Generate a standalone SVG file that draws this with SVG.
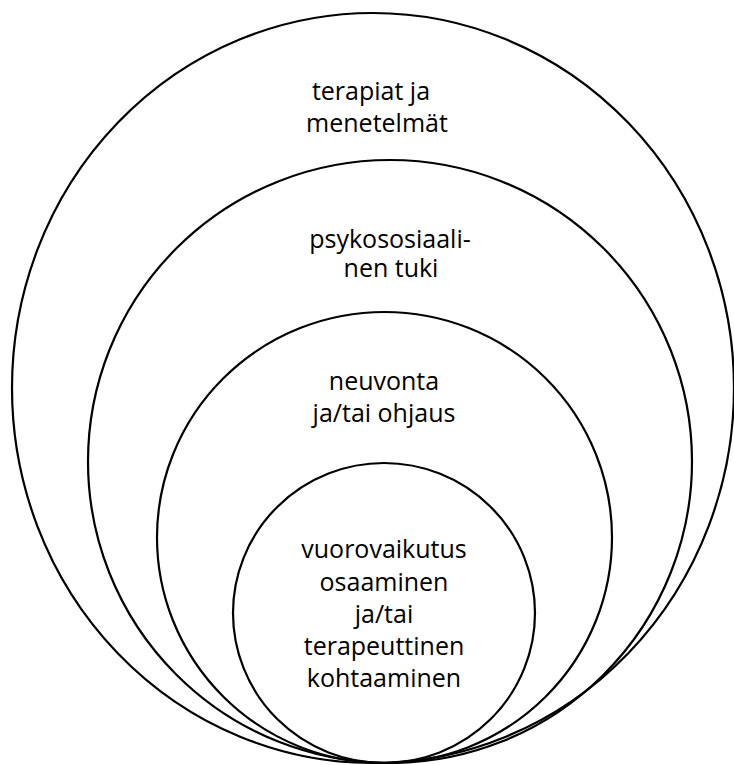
<svg xmlns="http://www.w3.org/2000/svg" width="734" height="765" viewBox="0 0 734 765">
<style>
.ring{fill:none;stroke:#000;stroke-width:2.2}
.lbl{font-family:"Open Sans","Noto Sans","Liberation Sans",sans-serif;font-size:25px;fill:#000;text-anchor:middle}
</style>
<rect width="734" height="765" fill="#fff"/>
<g id="ring-outer">
<ellipse class="ring" cx="373" cy="388" rx="361" ry="375"/>
<text class="lbl" x="371" y="100">terapiat ja</text>
<text class="lbl" x="377" y="132">menetelmät</text>
</g>
<g id="ring-second">
<ellipse class="ring" cx="390" cy="461.5" rx="302" ry="301.5"/>
<text class="lbl" x="390" y="248">psykososiaali-</text>
<text class="lbl" x="391" y="277">nen tuki</text>
</g>
<g id="ring-third">
<ellipse class="ring" cx="384.5" cy="537.5" rx="227.5" ry="225.5"/>
<text class="lbl" x="384" y="390">neuvonta</text>
<text class="lbl" x="384" y="422">ja/tai ohjaus</text>
</g>
<g id="ring-inner">
<ellipse class="ring" cx="384" cy="613" rx="151" ry="150"/>
<text class="lbl" x="384" y="558">vuorovaikutus</text>
<text class="lbl" x="384" y="591">osaaminen</text>
<text class="lbl" x="384" y="623">ja/tai</text>
<text class="lbl" x="384" y="655">terapeuttinen</text>
<text class="lbl" x="384" y="687">kohtaaminen</text>
</g>
<g id="connectors"/>
</svg>
